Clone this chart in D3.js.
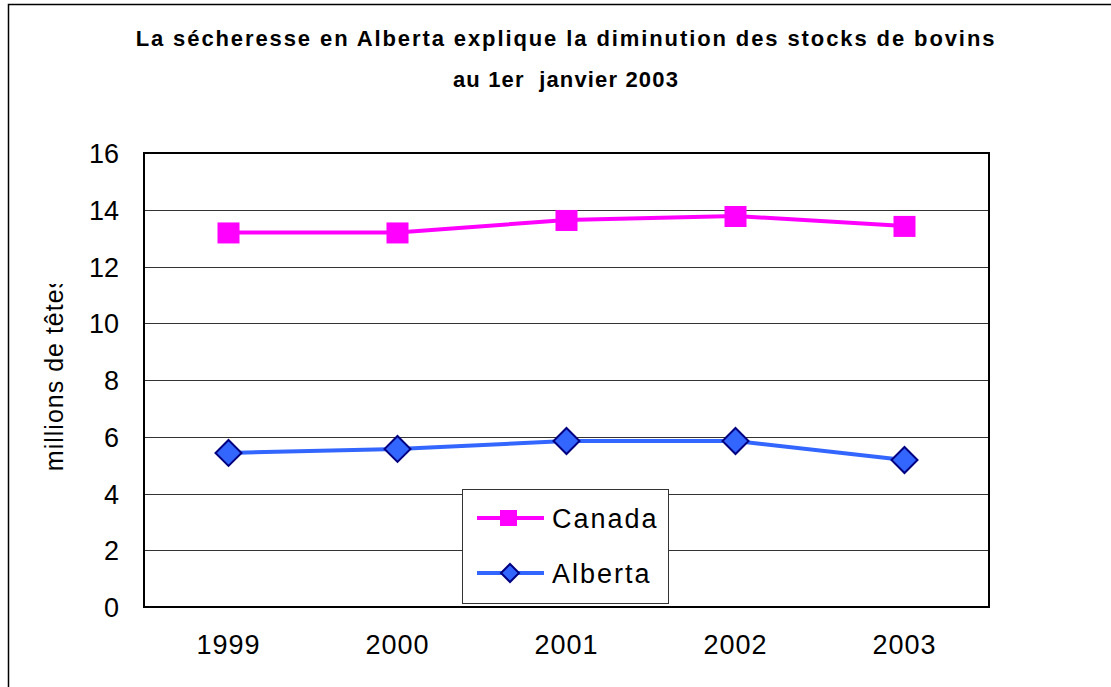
<!DOCTYPE html>
<html>
<head>
<meta charset="utf-8">
<script src="https://cdn.jsdelivr.net/npm/d3@7"></script>
<style>
  body { margin: 0; background: #fff; }
  text { font-family: "Liberation Sans", Arial, sans-serif; }
</style>
</head>
<body>
<div id="chart"></div>
<script>
var years = ["1999", "2000", "2001", "2002", "2003"];
var canada = [13.2, 13.2, 13.64, 13.78, 13.43];
var alberta = [5.43, 5.57, 5.85, 5.85, 5.18];
var yTicks = [0, 2, 4, 6, 8, 10, 12, 14, 16];
var titleLines = ["La sécheresse en Alberta explique la diminution des stocks de bovins",
                  "au 1er  janvier 2003"];

var W = 1111, H = 687;
var margin = {top: 153, right: 122, bottom: 80, left: 144},
    width = 989 - margin.left,
    height = 607 - margin.top;

var svg = d3.select("#chart")
  .append("svg")
    .attr("width", W)
    .attr("height", H);

// outer frame (cut off at right and bottom)
svg.append("rect")
  .attr("x", 8.5).attr("y", 4.5)
  .attr("width", W + 20).attr("height", H + 20)
  .attr("fill", "none").attr("stroke", "#000").attr("stroke-width", 1.5);

// title
var spacing = ["1.9px", "1.15px"];
svg.selectAll(".title")
  .data(titleLines)
  .enter()
  .append("text")
    .attr("class", "title")
    .attr("x", 566)
    .attr("y", function(d, i) { return 46 + i * 40.5; })
    .attr("text-anchor", "middle")
    .style("font-size", "22px")
    .style("font-weight", "bold")
    .style("letter-spacing", function(d, i) { return spacing[i]; })
    .style("white-space", "pre")
    .text(function(d) { return d; });

var g = svg.append("g")
  .attr("transform", "translate(" + margin.left + "," + margin.top + ")");

var x = d3.scaleBand()
  .domain(years)
  .range([0, width]);

var y = d3.scaleLinear()
  .domain([0, 16])
  .range([height, 0]);

// gridlines
g.selectAll(".grid")
  .data(yTicks.filter(function(d) { return d > 0 && d < 16; }))
  .enter()
  .append("line")
    .attr("x1", 0).attr("x2", width)
    .attr("y1", function(d) { return Math.round(y(d)) + 0.5; })
    .attr("y2", function(d) { return Math.round(y(d)) + 0.5; })
    .attr("stroke", "#333").attr("stroke-width", 1);

// plot frame
g.append("rect")
  .attr("x", 0).attr("y", 0)
  .attr("width", width).attr("height", height)
  .attr("fill", "none").attr("stroke", "#000").attr("stroke-width", 2);

// y axis labels
var yAxis = g.append("g")
  .call(d3.axisLeft(y).tickValues(yTicks).tickSize(0).tickPadding(25));
yAxis.select(".domain").remove();
yAxis.selectAll("text")
  .style("font-size", "27px")
  .style("font-family", "'Liberation Sans', Arial, sans-serif")
  .attr("fill", "#000")
  .attr("dy", "0.36em");

// x axis labels
var xAxis = g.append("g")
  .attr("transform", "translate(0," + height + ")")
  .call(d3.axisBottom(x).tickSize(0).tickPadding(28));
xAxis.select(".domain").remove();
xAxis.selectAll("text")
  .style("font-size", "27px")
  .style("font-family", "'Liberation Sans', Arial, sans-serif")
  .style("letter-spacing", "1px")
  .attr("fill", "#000");

// y axis title, clipped at the top like the original
svg.append("clipPath").attr("id", "yclip")
  .append("rect").attr("x", 0).attr("y", 284).attr("width", 140).attr("height", 300);
svg.append("g")
  .attr("clip-path", "url(#yclip)")
  .append("text")
    .attr("transform", "translate(63,373) rotate(-90)")
    .attr("text-anchor", "middle")
    .style("font-size", "25px")
    .style("letter-spacing", "1px")
    .text("millions de têtes");

var cx = function(d, i) { return x(years[i]) + x.bandwidth() / 2; };

var line = d3.line()
  .x(function(d, i) { return cx(d, i); })
  .y(function(d) { return y(d); });

// Canada
g.append("path")
  .datum(canada)
  .attr("d", line)
  .attr("fill", "none").attr("stroke", "#FF00FF").attr("stroke-width", 4);
g.selectAll(".sq")
  .data(canada)
  .enter()
  .append("rect")
    .attr("x", function(d, i) { return cx(d, i) - 11; })
    .attr("y", function(d) { return y(d) - 10; })
    .attr("width", 22).attr("height", 21)
    .attr("fill", "#FF00FF");

// Alberta
g.append("path")
  .datum(alberta)
  .attr("d", line)
  .attr("fill", "none").attr("stroke", "#3366FF").attr("stroke-width", 4);
var diamond = "M0,-13L13,0L0,13L-13,0Z";
g.selectAll(".dm")
  .data(alberta)
  .enter()
  .append("path")
    .attr("transform", function(d, i) { return "translate(" + cx(d, i) + "," + y(d) + ")"; })
    .attr("d", diamond)
    .attr("fill", "#3366FF").attr("stroke", "#000080").attr("stroke-width", 2);

// legend
var legend = svg.append("g");
legend.append("rect")
  .attr("x", 462.5).attr("y", 489.5)
  .attr("width", 206).attr("height", 114)
  .attr("fill", "#fff").attr("stroke", "#333").attr("stroke-width", 1);

var series = [
  {name: "Canada", color: "#FF00FF", y: 518, marker: "square"},
  {name: "Alberta", color: "#3366FF", y: 573, marker: "diamond"}
];
series.forEach(function(s) {
  legend.append("line")
    .attr("x1", 477).attr("x2", 544)
    .attr("y1", s.y).attr("y2", s.y)
    .attr("stroke", s.color).attr("stroke-width", 4);
  if (s.marker == "square") {
    legend.append("rect")
      .attr("x", 500).attr("y", s.y - 8).attr("width", 17).attr("height", 16)
      .attr("fill", s.color);
  } else {
    legend.append("path")
      .attr("transform", "translate(510," + s.y + ")")
      .attr("d", "M0,-9L9,0L0,9L-9,0Z")
      .attr("fill", s.color).attr("stroke", "#000080").attr("stroke-width", 2);
  }
  legend.append("text")
    .attr("x", 552).attr("y", s.y)
    .attr("dy", "0.36em")
    .style("font-size", "27px")
    .style("letter-spacing", "2px")
    .text(s.name);
});
</script>
</body>
</html>
